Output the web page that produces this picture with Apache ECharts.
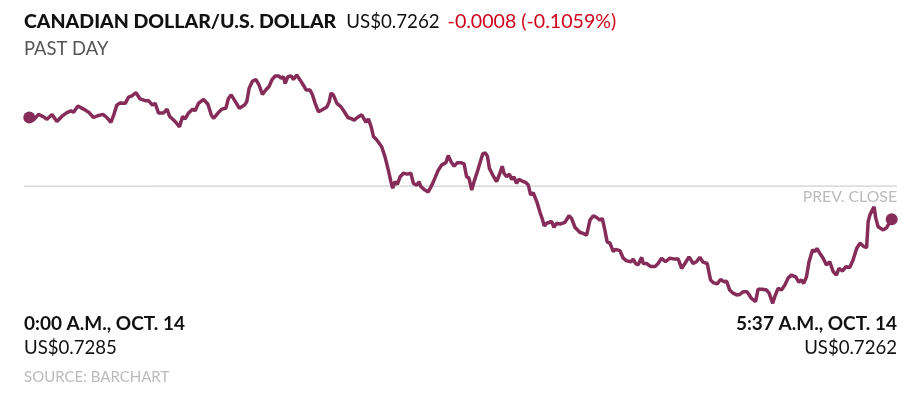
<!DOCTYPE html>
<html>
<head>
<meta charset="utf-8">
<script src="https://cdn.jsdelivr.net/npm/echarts@6/dist/echarts.min.js"></script>
<style>html,body{margin:0;padding:0;background:#fff}#c{width:920px;height:398px}</style>
</head>
<body>
<div id="c"></div>
<script>
// minutes after 0:00 A.M., Oct. 14
const minutes = [0,1.6,3.6,5.4,6.9,8.9,10.8,12.8,14.7,16.3,17.3,19.0,21.2,23.2,25.1,26.7,28.8,30.3,31.9,32.9,34.2,35.5,37.5,38.8,40.1,41.7,43.3,45.3,46.6,48.1,49.2,50.5,52.4,53.8,54.8,57.0,58.7,59.9,60.9,62.2,63.9,64.8,66.1,68.1,69.8,71.1,72.0,73.7,75.3,76.8,77.8,78.9,80.4,82.1,84.1,85.0,85.9,87.2,88.5,89.8,91.1,92.4,93.7,94.8,96.1,97.4,98.4,99.3,100.0,101.0,102.3,103.2,104.5,105.8,107.1,108.2,109.7,110.6,111.7,113.0,114.3,116.3,117.2,117.9,118.8,120.2,121.8,123.1,124.5,126.0,127.0,128.2,129.9,130.5,131.6,132.5,133.6,134.5,135.8,137.7,139.0,140.3,141.3,142.0,142.9,143.8,144.9,146.2,147.7,149.1,150.1,151.4,152.3,153.0,154.6,155.9,157.3,158.5,159.8,161.2,162.8,163.7,164.8,166.0,167.3,168.6,169.9,170.9,171.8,172.9,173.8,175.1,176.1,177.2,178.1,179.0,179.8,181.1,182.6,183.9,184.8,185.5,186.5,187.6,188.5,189.4,190.4,191.3,192.4,194.1,195.0,195.9,196.9,198.3,199.5,200.6,201.2,202.2,202.8,204.1,205.0,206.1,207.4,209.3,210.9,211.9,213.2,215.2,216.5,217.8,218.4,219.1,220.4,221.7,223.0,223.9,224.9,225.8,226.9,228.2,229.1,230.8,232.1,233.4,235.1,236.0,236.9,237.9,239.3,239.9,241.2,242.9,244.5,245.7,247.1,248.6,250.3,252.2,253.6,254.9,256.2,257.8,259.4,260.7,262.0,263.3,264.9,266.2,267.2,268.8,270.1,271.4,272.5,273.7,275.0,276.4,277.6,278.9,280.5,282.2,283.8,284.8,286.4,288.1,289.1,290.5,291.3,292.6,293.9,295.2,296.5,297.8,299.5,300.7,301.7,302.6,303.7,304.7,306.1,307.0,307.8,308.9,310.2,311.5,312.8,314.1,315.4,316.4,317.8,319.1,320.6,321.9,323.3,324.6,326.2,327.2,327.8,328.5,329.2,330.1,330.8,331.7,333.7,335.0,337];
const prices = [0.72850,0.72844,0.72857,0.72852,0.72846,0.72857,0.72841,0.72853,0.72861,0.72865,0.72862,0.72876,0.72869,0.72862,0.72850,0.72854,0.72857,0.72850,0.72839,0.72854,0.72878,0.72883,0.72882,0.72896,0.72899,0.72906,0.72892,0.72888,0.72888,0.72878,0.72882,0.72860,0.72860,0.72869,0.72853,0.72841,0.72829,0.72852,0.72847,0.72860,0.72869,0.72865,0.72882,0.72891,0.72880,0.72856,0.72848,0.72860,0.72869,0.72871,0.72893,0.72901,0.72887,0.72871,0.72878,0.72886,0.72916,0.72932,0.72936,0.72923,0.72902,0.72912,0.72920,0.72935,0.72944,0.72944,0.72939,0.72942,0.72927,0.72942,0.72944,0.72936,0.72946,0.72935,0.72923,0.72912,0.72912,0.72902,0.72882,0.72863,0.72867,0.72874,0.72886,0.72905,0.72901,0.72882,0.72874,0.72863,0.72850,0.72847,0.72844,0.72850,0.72856,0.72860,0.72839,0.72847,0.72829,0.72807,0.72799,0.72784,0.72761,0.72731,0.72705,0.72690,0.72705,0.72699,0.72716,0.72724,0.72722,0.72724,0.72701,0.72697,0.72705,0.72694,0.72686,0.72682,0.72697,0.72713,0.72731,0.72743,0.72748,0.72764,0.72750,0.72740,0.72748,0.72748,0.72745,0.72716,0.72713,0.72686,0.72705,0.72728,0.72747,0.72768,0.72770,0.72763,0.72735,0.72720,0.72705,0.72724,0.72740,0.72724,0.72716,0.72722,0.72710,0.72716,0.72701,0.72710,0.72707,0.72703,0.72697,0.72675,0.72680,0.72660,0.72637,0.72618,0.72605,0.72611,0.72609,0.72615,0.72602,0.72611,0.72609,0.72613,0.72628,0.72622,0.72602,0.72590,0.72588,0.72584,0.72600,0.72618,0.72628,0.72624,0.72618,0.72622,0.72596,0.72569,0.72566,0.72547,0.72552,0.72549,0.72532,0.72526,0.72524,0.72530,0.72520,0.72517,0.72534,0.72520,0.72520,0.72513,0.72513,0.72520,0.72532,0.72524,0.72532,0.72530,0.72530,0.72509,0.72520,0.72535,0.72520,0.72524,0.72534,0.72523,0.72520,0.72483,0.72477,0.72474,0.72484,0.72479,0.72480,0.72460,0.72453,0.72449,0.72450,0.72456,0.72456,0.72441,0.72434,0.72462,0.72462,0.72460,0.72453,0.72430,0.72445,0.72464,0.72460,0.72471,0.72487,0.72494,0.72490,0.72478,0.72483,0.72475,0.72490,0.72524,0.72551,0.72547,0.72554,0.72543,0.72532,0.72517,0.72524,0.72502,0.72494,0.72509,0.72503,0.72513,0.72511,0.72528,0.72554,0.72566,0.72558,0.72556,0.72615,0.72630,0.72626,0.72648,0.72622,0.72603,0.72596,0.72601,0.7262];
const prevClose = 0.72695;
const timeRange = [-2.07, 339.07];
const priceRange = [0.7240, 0.7300];
const titleMain = 'CANADIAN DOLLAR/U.S. DOLLAR';
const lastPrice = 'US$0.7262';
const changeText = '-0.0008 (-0.1059%)';
const subtitle = 'PAST DAY';
const startLabel = '0:00 A.M., OCT. 14';
const startPrice = 'US$0.7285';
const endLabel = '5:37 A.M., OCT. 14';
const endPrice = 'US$0.7262';
const source = 'SOURCE: BARCHART';
const prevLabel = 'PREV. CLOSE';

const FONT = 'Lato, "Open Sans", sans-serif';
const LINE = '#852c58';
const data = minutes.map((m, i) => [m, prices[i]]);
const ends = [data[0], data[data.length - 1]];
const prevLine = timeRange.map(t => [t, prevClose]);

const chart = echarts.init(document.getElementById('c'), null, {renderer: 'canvas'});
chart.setOption({
  animation: false,
  backgroundColor: '#fff',
  grid: {left: 24, width: 873, top: 51.13, height: 265.49, containLabel: false},
  xAxis: {type: 'value', min: timeRange[0], max: timeRange[1], show: false},
  yAxis: {type: 'value', min: priceRange[0], max: priceRange[1], show: false},
  series: [
    {
      type: 'line', data: prevLine, showSymbol: false, symbol: 'none', silent: true,
      lineStyle: {color: '#c4c4c4', width: 1}, z: 1
    },
    {
      type: 'line', data: data, showSymbol: false, symbol: 'none',
      lineStyle: {color: LINE, width: 3.5}, z: 3
    },
    {
      type: 'scatter', data: ends, symbolSize: 12,
      itemStyle: {color: LINE, opacity: 1}, z: 4
    }
  ],
  graphic: [
    {type: 'text', x: 24, y: 21.5, style: {
      text: '{a|' + titleMain + '}{b|' + lastPrice + '}{c|' + changeText + '}',
      verticalAlign: 'middle', align: 'left',
      rich: {
        a: {fontFamily: FONT, fontWeight: 900, fontSize: 19.5, fill: '#111', color: '#111'},
        b: {fontFamily: FONT, fontSize: 18.7, fill: '#111', color: '#111', padding: [0, 0, 0, 10]},
        c: {fontFamily: FONT, fontSize: 19.6, fill: '#d0021b', color: '#d0021b', padding: [0, 0, 0, 8]}
      }
    }},
    {type: 'text', x: 24, y: 49, style: {text: subtitle, font: '18.4px ' + FONT, fill: '#555', verticalAlign: 'middle'}},
    {type: 'text', x: 897, y: 196.5, style: {text: prevLabel, font: '15.8px ' + FONT, fill: '#bbb', align: 'right', verticalAlign: 'middle'}},
    {type: 'text', x: 24, y: 324, style: {text: startLabel, font: '700 19px ' + FONT, fill: '#111', verticalAlign: 'middle'}},
    {type: 'text', x: 24, y: 347.7, style: {text: startPrice, font: '18.6px ' + FONT, fill: '#111', verticalAlign: 'middle'}},
    {type: 'text', x: 24, y: 377, style: {text: source, font: '15px ' + FONT, fill: '#bbb', verticalAlign: 'middle'}},
    {type: 'text', x: 897, y: 324, style: {text: endLabel, font: '700 19px ' + FONT, fill: '#111', align: 'right', verticalAlign: 'middle'}},
    {type: 'text', x: 897, y: 347.7, style: {text: endPrice, font: '18.6px ' + FONT, fill: '#111', align: 'right', verticalAlign: 'middle'}}
  ]
});
</script>
</body>
</html>
